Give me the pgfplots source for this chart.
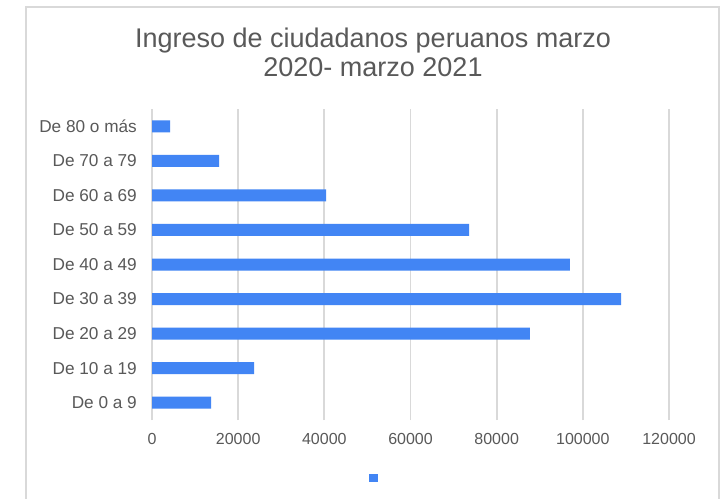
\documentclass[border=0pt]{standalone}
\usepackage{pgfplots}
\pgfplotsset{compat=1.18}
\usepackage{fontspec}
\setmainfont{Liberation Sans}
\definecolor{barblue}{HTML}{4285F4}
\definecolor{txtgray}{HTML}{595959}
\definecolor{gridgray}{HTML}{D9D9D9}
\begin{document}
\begin{tikzpicture}[x=1pt,y=1pt]
\useasboundingbox (0,0) rectangle (727,498);
\clip (0,0) rectangle (727,498);
\fill[white] (0,0) rectangle (727,498);
\draw[gridgray, line width=2pt] (25.7,-10) -- (25.7,491.3) -- (719,491.3) -- (719,-10);
\node[anchor=base, inner sep=0pt, font=\fontsize{27}{32}\selectfont, text=txtgray] at (373,450.7) {Ingreso de ciudadanos peruanos marzo};
\node[anchor=base, inner sep=0pt, font=\fontsize{27}{32}\selectfont, text=txtgray] at (373,421) {2020- marzo 2021};
\begin{axis}[
  at={(152pt,78pt)}, anchor=south west,
  width=517pt, height=311pt, scale only axis,
  xbar, bar width=12pt,
  xmin=0, xmax=120000, ymin=-0.5, ymax=8.5,
  axis line style={draw=none},
  major tick length=0pt,
  xmajorgrids, major grid style={gridgray, line width=1.7pt},
  xtick={0,20000,40000,60000,80000,100000,120000},
  xticklabels={0,20000,40000,60000,80000,100000,120000},
  scaled x ticks=false,
  ytick={0,1,2,3,4,5,6,7,8},
  yticklabels={De 0 a 9,De 10 a 19,De 20 a 29,De 30 a 39,De 40 a 49,De 50 a 59,De 60 a 69,De 70 a 79,De 80 o más},
  x tick label style={font=\fontsize{16}{19}\selectfont, text=txtgray, inner sep=0pt, anchor=north, yshift=-13pt},
  y tick label style={font=\fontsize{17.2}{20}\selectfont, text=txtgray, inner sep=0pt, anchor=east, xshift=-15pt},
  legend style={at={(0.430,-0.186)}, anchor=center, draw=none, fill=none, inner sep=0pt, nodes={inner sep=0pt}},
  legend image code/.code={\fill[barblue] (-4.5pt,-4pt) rectangle (4.5pt,4pt);},
]
\addplot[fill=barblue, draw=none] coordinates {
(13700,0) (23700,1) (87700,2) (108900,3) (97000,4) (73600,5) (40400,6) (15600,7) (4200,8)};
\addlegendentry{}
\end{axis}
\end{tikzpicture}
\end{document}
